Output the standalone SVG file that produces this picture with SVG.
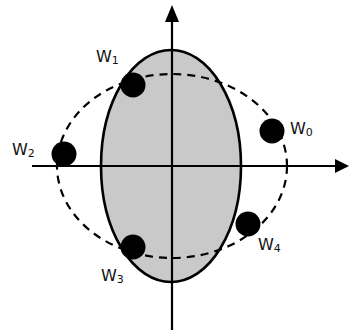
<svg xmlns="http://www.w3.org/2000/svg" width="349" height="330" viewBox="0 0 349 330">
<style>
.lbl{font-family:"DejaVu Sans","Liberation Sans",sans-serif;font-size:16px;fill:#111}
.sub{font-size:11px}
.dot{fill:#000}
.axis{stroke:#000;stroke-width:2.2;fill:none}
</style>
<rect width="349" height="330" fill="#fff"/>
<ellipse id="region" cx="171" cy="166" rx="70" ry="116" fill="#c9c9c9" stroke="#000" stroke-width="2.6"/>
<g id="connectors">
<line class="axis" x1="172" y1="330" x2="172" y2="22"/>
<path d="M172,5 L165,22 L179,22 Z" fill="#000"/>
<line class="axis" x1="32" y1="166" x2="336" y2="166"/>
<path d="M349,166 L335,159 L335,173 Z" fill="#000"/>
</g>
<ellipse id="circle" cx="172" cy="166" rx="115" ry="92" fill="none" stroke="#000" stroke-width="2.2" stroke-dasharray="8,6"/>
<g id="w1"><circle class="dot" cx="133" cy="85" r="12.5"/><text class="lbl" x="96" y="62">W<tspan class="sub" dy="2">1</tspan></text></g>
<g id="w2"><circle class="dot" cx="64" cy="154" r="12.5"/><text class="lbl" x="12" y="155">W<tspan class="sub" dy="2">2</tspan></text></g>
<g id="w0"><circle class="dot" cx="272" cy="131" r="12.5"/><text class="lbl" x="290" y="134">W<tspan class="sub" dy="2">0</tspan></text></g>
<g id="w4"><circle class="dot" cx="248" cy="224" r="12.5"/><text class="lbl" x="258" y="250">W<tspan class="sub" dy="2">4</tspan></text></g>
<g id="w3"><circle class="dot" cx="133" cy="247" r="12.5"/><text class="lbl" x="101" y="281">W<tspan class="sub" dy="2">3</tspan></text></g>
</svg>
